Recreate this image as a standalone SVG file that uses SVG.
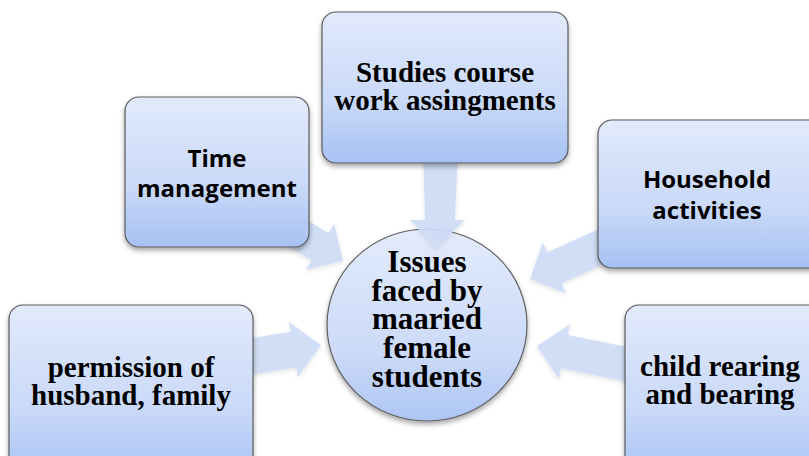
<svg xmlns="http://www.w3.org/2000/svg" width="809" height="456" viewBox="0 0 809 456">
<defs>
<linearGradient id="boxGrad" x1="0" y1="0" x2="0" y2="1">
<stop offset="0" stop-color="#e2eafc"/>
<stop offset="0.6" stop-color="#c9d9f8"/>
<stop offset="1" stop-color="#a6c1f3"/>
</linearGradient>
<linearGradient id="circGrad" x1="0" y1="0" x2="0" y2="1">
<stop offset="0" stop-color="#e3ebfc"/>
<stop offset="0.65" stop-color="#cbdaf8"/>
<stop offset="1" stop-color="#adc6f4"/>
</linearGradient>
<filter id="shadow" x="-10%" y="-10%" width="120%" height="130%">
<feDropShadow dx="0" dy="3" stdDeviation="2.5" flood-color="#000" flood-opacity="0.35"/>
</filter>
<filter id="ashadow" x="-10%" y="-10%" width="120%" height="130%">
<feDropShadow dx="0" dy="2" stdDeviation="2" flood-color="#000" flood-opacity="0.12"/>
</filter>
</defs>
<style>
.box{fill:url(#boxGrad);stroke:#5a5a5a;stroke-width:1.2;filter:url(#shadow)}
.circ{fill:url(#circGrad);stroke:#5f5f5f;stroke-width:1.2;filter:url(#shadow)}
.arrow{fill:#cddbf7;fill-opacity:0.9;filter:url(#ashadow)}
.serif{font-family:"Liberation Serif","Times New Roman",serif;font-weight:bold;fill:#000;text-anchor:middle}
.sans{font-family:"Open Sans","Liberation Sans",Arial,sans-serif;font-weight:bold;fill:#000;text-anchor:middle}
</style>
<rect width="809" height="456" fill="#ffffff"/>

<g id="center">
<ellipse class="circ" cx="427" cy="325" rx="100" ry="96"/>
<text class="serif" font-size="31" x="427" y="272">Issues</text>
<text class="serif" font-size="31" x="427" y="301">faced by</text>
<text class="serif" font-size="31" x="427" y="329">maaried</text>
<text class="serif" font-size="31" x="427" y="358">female</text>
<text class="serif" font-size="31" x="427" y="387">students</text>
</g>

<g id="connectors">
<polygon class="arrow" points="423,150 458,150 455,220 465,220 436,248 410,220 425,220"/>
<polygon class="arrow" points="288.4,208.4 328.4,233.2 334.2,223.8 343,261 305.8,269.8 311.6,260.4 271.6,235.6"/>
<polygon class="arrow" points="612.9,222.5 547.5,252.3 543.0,242.3 530,279 566.2,293.3 561.7,283.3 627.1,253.5"/>
<polygon class="arrow" points="232.1,341.2 290.5,331.7 288.9,321.9 321,345 297.9,377.1 296.3,367.3 237.9,376.8"/>
<polygon class="arrow" points="653.4,352.3 567.8,334.9 570.0,324.2 537,346 558.8,379.0 561.0,368.3 646.6,385.7"/>
</g>

<g id="time">
<rect class="box" x="125" y="97" width="184" height="150" rx="14"/>
<text class="sans" font-size="24" x="217" y="167">Time</text>
<text class="sans" font-size="24" x="217" y="197">management</text>
</g>

<g id="studies">
<rect class="box" x="322" y="12" width="246" height="151" rx="14"/>
<text class="serif" font-size="29" x="445" y="82">Studies course</text>
<text class="serif" font-size="29" x="445" y="110">work assingments</text>
</g>

<g id="household">
<rect class="box" x="598" y="120" width="230" height="148" rx="14"/>
<text class="sans" font-size="24" x="707" y="188">Household</text>
<text class="sans" font-size="24" x="707" y="219">activities</text>
</g>

<g id="permission">
<rect class="box" x="9" y="305" width="244" height="175" rx="14"/>
<text class="serif" font-size="29" x="131" y="377">permission of</text>
<text class="serif" font-size="29" x="131" y="405">husband, family</text>
</g>

<g id="child">
<rect class="box" x="625" y="305" width="210" height="175" rx="14"/>
<text class="serif" font-size="29" x="720" y="376">child rearing</text>
<text class="serif" font-size="29" x="720" y="404">and bearing</text>
</g>
</svg>
